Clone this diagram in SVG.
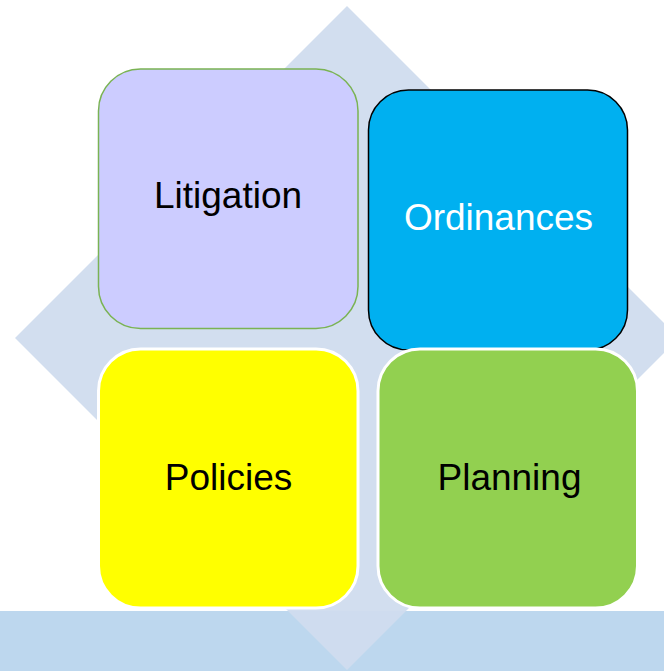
<svg xmlns="http://www.w3.org/2000/svg" width="664" height="671" viewBox="0 0 664 671">
  <style>
    .label { font-family: "Liberation Sans", Arial, sans-serif; font-size: 37px; text-anchor: middle; }
    .dark { fill: #000000; }
    .light { fill: #FFFFFF; }
  </style>
  <rect x="0" y="0" width="664" height="671" fill="#FFFFFF"/>
  <!-- bottom band -->
  <rect id="band" x="0" y="611" width="664" height="60" fill="#BDD7EE"/>
  <!-- background diamond -->
  <polygon id="diamond" points="347,6 679,338 347,670 15,338" fill="#D0DCEE" fill-opacity="0.95"/>

  <g id="connectors"></g>

  <g id="litigation">
    <rect x="98.5" y="69" width="259.5" height="259.5" rx="42" ry="42" fill="#CCCCFF" stroke="#7AB353" stroke-width="1.5"/>
    <text class="label dark" x="228" y="208">Litigation</text>
  </g>
  <g id="ordinances">
    <rect x="368.5" y="90" width="259" height="260" rx="40" ry="40" fill="#00B0F0" stroke="#000000" stroke-width="1.5"/>
    <text class="label light" x="498.5" y="230">Ordinances</text>
  </g>
  <g id="policies">
    <rect x="98.5" y="349" width="259.5" height="259" rx="42" ry="42" fill="#FFFF00" stroke="#FFFFFF" stroke-width="3"/>
    <text class="label dark" x="228.5" y="490">Policies</text>
  </g>
  <g id="planning">
    <rect x="378" y="349" width="259.5" height="259" rx="42" ry="42" fill="#92D050" stroke="#FFFFFF" stroke-width="3"/>
    <text class="label dark" x="509.5" y="490">Planning</text>
  </g>
</svg>
